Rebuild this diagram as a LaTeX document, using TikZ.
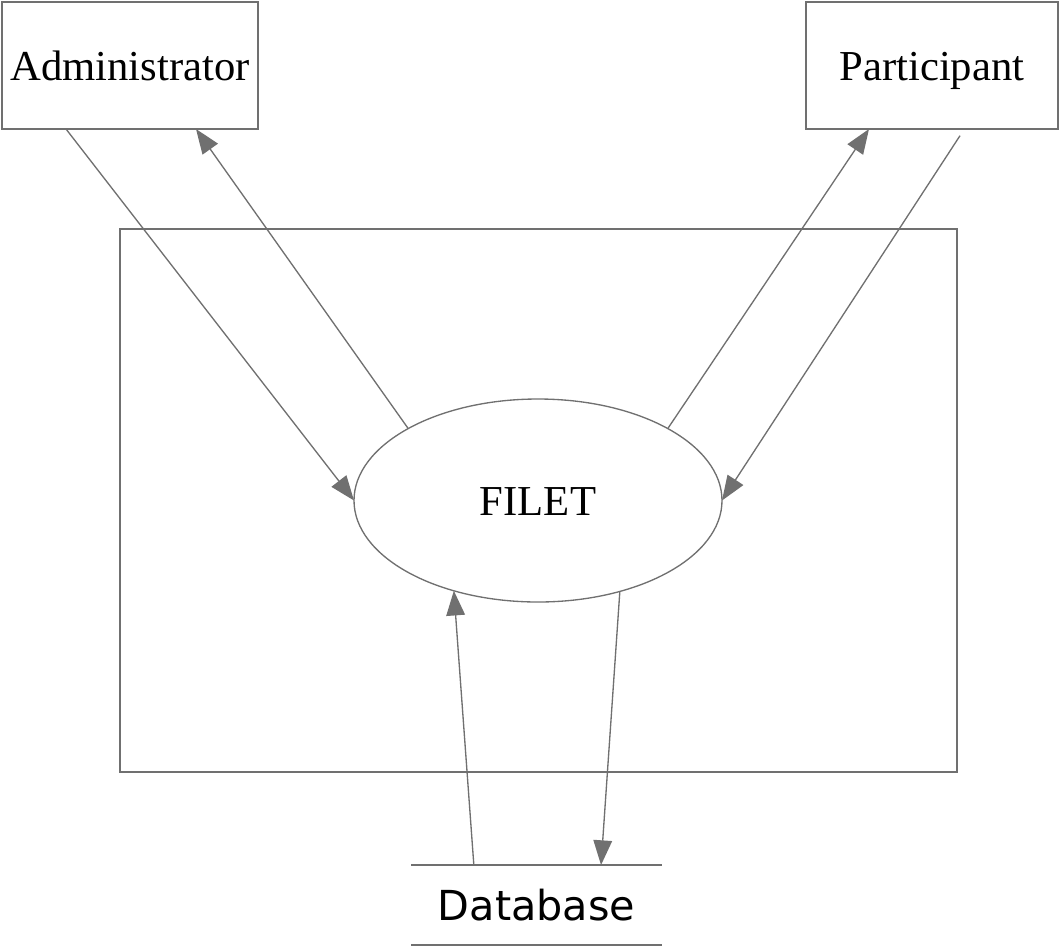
\documentclass[tikz,border=0pt]{standalone}
\usepackage{fontspec}
\setmainfont{Liberation Serif}
\newfontfamily\dejavu{DejaVu Sans}
\usetikzlibrary{arrows.meta,shapes.geometric,calc}
\definecolor{lc}{HTML}{707070}
\begin{document}
\begin{tikzpicture}[x=0.75pt,y=-0.75pt,
  every node/.style={inner sep=0pt,outer sep=0pt},
  ent/.style={draw=lc,line width=1pt,rectangle,minimum height=95.25pt},
  lbl/.style={text height=26pt,text depth=4pt,inner sep=0pt,font=\fontsize{32}{36}\selectfont},
  flow/.style={draw=lc,line width=1pt,-{Triangle[length=18.5pt,width=14pt,fill=lc]}}]
\useasboundingbox (0,0) rectangle (1060,951);
\node[draw=lc,line width=1pt,minimum width=627.75pt,minimum height=407.25pt] (sys) at (538.5,500.5) {};
\node[ent,minimum width=192pt] (admin) at (130,65.5) {};
\node[lbl] (admintxt) at (admin.center) {Administrator};
\node[ent,minimum width=189pt] (part) at (932,65.5) {};
\node[lbl] (parttxt) at (part.center) {Participant};
\node[draw=lc,line width=1pt,ellipse,minimum width=276pt,minimum height=152.25pt,fill=white] (filet) at (538,500.5) {};
\node[lbl] (filettxt) at (filet.center) {FILET};
\node[minimum width=188.25pt,minimum height=60pt,font=\dejavu\fontsize{31}{36}\selectfont] (db) at (536.5,905) {Database};
\draw[lc,line width=1pt] (db.north west) -- (db.north east);
\draw[lc,line width=1pt] (db.south west) -- (db.south east);
% flows
\draw[flow] ([xshift=-48pt]admin.south) -- (filet.180);
\draw[flow] (filet.151.6) -- ([xshift=49.5pt]admin.south);
\draw[flow] (filet.29) -- ([xshift=-47.25pt]part.south);
\draw[flow] ([xshift=21pt,yshift=-5pt]part.south) -- (filet.0);
\draw[flow] ([xshift=-47pt]db.north) -- (filet.227.7);
\draw[flow] (filet.312) -- ([xshift=48.4pt]db.north);
\end{tikzpicture}
\end{document}
